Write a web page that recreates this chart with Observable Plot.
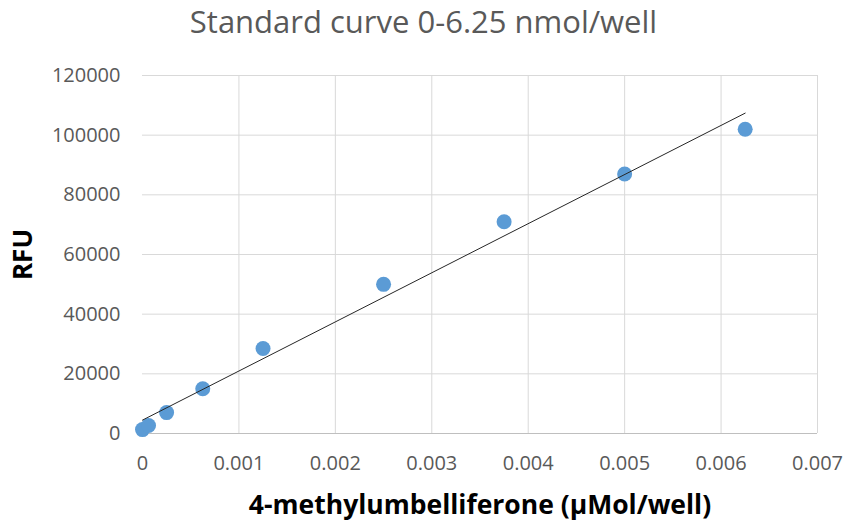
<!DOCTYPE html>
<html>
<head>
<meta charset="utf-8">
<script src="https://cdn.jsdelivr.net/npm/d3@7"></script>
<script src="https://cdn.jsdelivr.net/npm/@observablehq/plot@0.6"></script>
<style>
  html, body { margin: 0; padding: 0; background: #fff; }
  #chart svg { display: block; overflow: visible; }
</style>
</head>
<body>
<div id="chart"></div>
<script>
// 4-methylumbelliferone standard dilution series (µMol/well) and measured fluorescence
const concentration = [0, 0.0000625, 0.00025, 0.000625, 0.00125, 0.0025, 0.00375, 0.005, 0.00625];
const rfu = [1300, 2700, 7000, 15000, 28500, 50000, 71000, 87000, 102000];

const xTicks = [0, 0.001, 0.002, 0.003, 0.004, 0.005, 0.006, 0.007];
const yTicks = [0, 20000, 40000, 60000, 80000, 100000, 120000];

const title = "Standard curve 0-6.25 nmol/well";
const xLabel = "4-methylumbelliferone (µMol/well)";
const yLabel = "RFU";

const points = concentration.map((x, i) => ({x, y: rfu[i]}));

const font = "'Open Sans', Lato, sans-serif";
const W = 846;
const margin = {left: 142, right: 29, top: 75, bottom: 91};
const frameCenterX = margin.left + (W - margin.left - margin.right) / 2;

const chart = Plot.plot({
  width: W,
  height: 524,
  marginLeft: margin.left,
  marginRight: margin.right,
  marginTop: margin.top,
  marginBottom: margin.bottom,
  style: {fontFamily: font, background: "#fff"},
  x: {domain: [0, 0.007], ticks: xTicks},
  y: {domain: [0, 120000], ticks: yTicks},
  marks: [
    // gridlines
    Plot.ruleY(yTicks.filter(d => d > 0), {stroke: "#d9d9d9", strokeWidth: 1}),
    Plot.ruleX(xTicks.filter(d => d > 0), {stroke: "#d9d9d9", strokeWidth: 1}),
    Plot.ruleY([0], {stroke: "#bfbfbf", strokeWidth: 1}),
    // axes
    Plot.axisX({ticks: xTicks, tickSize: 0, tickPadding: 22, tickFormat: d => String(d),
      fontSize: 20, fill: "#595959", label: null}),
    Plot.axisY({ticks: yTicks, tickSize: 0, tickPadding: 22, tickFormat: d => String(d),
      fontSize: 20, fill: "#595959", label: null}),
    // data
    Plot.dot(points, {x: "x", y: "y", r: 7.5, fill: "#5b9bd5", stroke: "none"}),
    Plot.linearRegressionY(points, {x: "x", y: "y", ci: 0, stroke: "#262626", strokeWidth: 1}),
    // titles (chart title is centred on the whole figure)
    Plot.text([title], {frameAnchor: "top", lineAnchor: "middle", textAnchor: "middle",
      dx: W / 2 - frameCenterX, dy: 23 - margin.top, fontSize: 31, fill: "#595959", text: d => d}),
    Plot.text([xLabel], {frameAnchor: "bottom", lineAnchor: "middle", textAnchor: "middle",
      dy: 72, fontSize: 26.5, fontWeight: "bold", fill: "#000", text: d => d}),
    Plot.text([yLabel], {frameAnchor: "left", lineAnchor: "middle", textAnchor: "middle",
      dx: -119, rotate: -90, fontSize: 26, fontWeight: "bold", fill: "#000", text: d => d})
  ]
});

document.getElementById("chart").append(chart);
</script>
</body>
</html>
